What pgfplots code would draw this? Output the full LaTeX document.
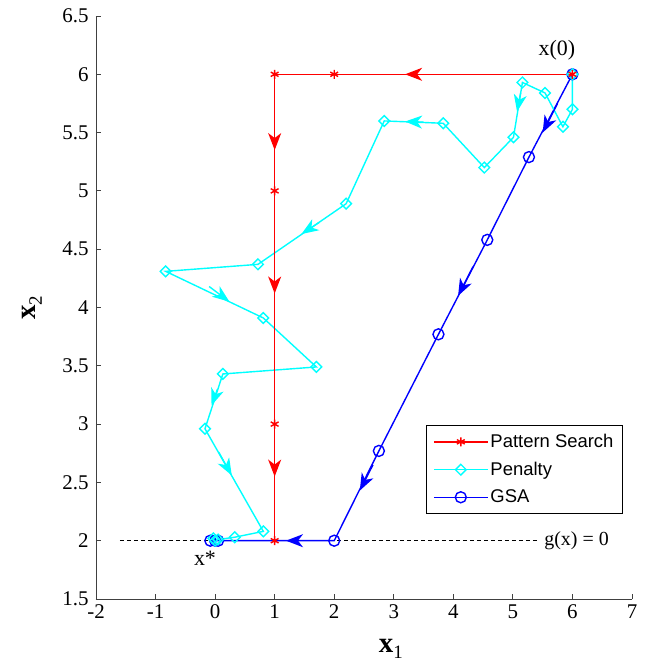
\documentclass[border=0pt]{standalone}
\usepackage{pgfplots}
\pgfplotsset{compat=1.18}
\usepackage{fontspec}
\setmainfont{Liberation Serif}
\setsansfont{Liberation Sans}
\usetikzlibrary{arrows.meta}

\definecolor{mred}{rgb}{1,0,0}
\definecolor{mcyan}{rgb}{0,1,1}
\definecolor{mblue}{rgb}{0,0,1}

\tikzset{arr/.style={-{Stealth[length=17bp,width=13bp,inset=5bp]}}}

\begin{document}
\begin{tikzpicture}
\begin{axis}[
    scale only axis,
    width=536bp, height=583bp,
    xmin=-2, xmax=7, ymin=1.5, ymax=6.5,
    xtick={-2,-1,...,7},
    ytick={1.5,2,...,6.5},
    axis lines*=left,
    axis line style={line width=0.9bp, black!75},
    tick align=inside,
    major tick length=5bp,
    tick style={black!75, line width=0.9bp},
    tick label style={font=\fontsize{21}{22}\selectfont},
    yticklabel style={xshift=-4bp},
    xticklabel style={yshift=-2bp},
    /pgf/number format/assume math mode=true,
    xlabel={{\fontsize{29}{30}\selectfont\bfseries x}{\fontsize{19}{20}\selectfont\raisebox{-6bp}{1}}},
    ylabel={{\fontsize{29}{30}\selectfont\bfseries x}{\fontsize{19}{20}\selectfont\raisebox{-6bp}{2}}},
    xlabel style={at={(axis description cs:0.55,-0.085)}, anchor=center},
    ylabel style={at={(axis description cs:-0.119,0.5)}, anchor=center},
    legend style={at={(axis description cs:0.983,0.2985)}, anchor=north east,
        font=\sffamily\fontsize{18.5}{20}\selectfont, draw=black, line width=0.9bp,
        inner xsep=7bp, inner ysep=7bp, row sep=9bp},
    legend cell align=left,
    legend image code/.code={
        \draw[mark repeat=2,mark phase=2,#1] plot coordinates {(0bp,0bp) (27bp,0bp) (54bp,0bp)};
    },
    every axis plot/.append style={line width=1.4bp},
]
% constraint line
\addplot[black, line width=0.9bp, dash pattern=on 4bp off 3bp, forget plot] coordinates {(-1.6,2) (5.45,2)};

% legend entries
\addlegendimage{mred, line width=1.4bp, mark=asterisk, mark size=4.5bp}
\addlegendentry{Pattern Search}
\addlegendimage{mcyan, line width=1.4bp, mark=square, mark size=3.8bp, mark options={rotate=45}}
\addlegendentry{Penalty}
\addlegendimage{mblue, line width=1.4bp, mark=o, mark size=5.5bp}
\addlegendentry{GSA}

% GSA
\addplot[mblue, mark=o, mark size=5.5bp, forget plot] coordinates {
(6,6) (5.27,5.29) (4.57,4.58) (3.75,3.77) (2.75,2.77) (2,2) (0.05,2) (0.0,2) (-0.08,2)
};
% Penalty
\addplot[mcyan, mark=square, mark size=3.8bp, mark options={rotate=45}, forget plot] coordinates {
(6,6) (6,5.7) (5.84,5.55) (5.54,5.84) (5.16,5.93) (5.01,5.46) (4.52,5.2) (3.83,5.58)
(2.84,5.6) (2.2,4.89) (0.72,4.37) (-0.83,4.31) (0.81,3.91) (1.7,3.49) (0.13,3.43)
(-0.17,2.96) (0.81,2.08) (0.33,2.03) (0.05,2.01) (-0.03,2.02) (0.0,2.0)
};
% Pattern search
\addplot[mred, mark=asterisk, mark size=4.5bp, forget plot] coordinates {
(6,6) (2,6) (1,6) (1,5) (1,3) (1,2)
};

% direction arrows
\addplot[mred, arr, forget plot, no markers] coordinates {(3.6,6) (3.19,6)};
\addplot[mred, arr, forget plot, no markers] coordinates {(1,5.6) (1,5.35)};
\addplot[mred, arr, forget plot, no markers] coordinates {(1,4.4) (1,4.12)};
\addplot[mred, arr, forget plot, no markers] coordinates {(1,2.8) (1,2.55)};

\addplot[mcyan, arr, forget plot, no markers] coordinates {(5.13,5.84) (5.07,5.68)};
\addplot[mcyan, arr, forget plot, no markers] coordinates {(3.5,5.59) (3.19,5.595)};
\addplot[mcyan, arr, forget plot, no markers] coordinates {(1.75,4.73) (1.45,4.63)};
\addplot[mcyan, arr, forget plot, no markers] coordinates {(-0.1,4.18) (0.24,4.05)};
\addplot[mcyan, arr, forget plot, no markers] coordinates {(0.04,3.3) (-0.06,3.16)};
\addplot[mcyan, arr, forget plot, no markers] coordinates {(0.06,2.76) (0.28,2.56)};

\addplot[mblue, arr, forget plot, no markers] coordinates {(5.75,5.75) (5.5,5.5)};
\addplot[mblue, arr, forget plot, no markers] coordinates {(4.33,4.35) (4.08,4.10)};
\addplot[mblue, arr, forget plot, no markers] coordinates {(2.65,2.65) (2.43,2.43)};
\addplot[mblue, arr, forget plot, no markers] coordinates {(1.6,2) (1.19,2)};

% annotations
\node[font=\fontsize{22}{24}\selectfont] at (axis cs:5.74,6.21) {x(0)};
\node[font=\fontsize{22}{24}\selectfont] at (axis cs:-0.17,1.85) {x*};
\node[font=\fontsize{20}{22}\selectfont, anchor=west] at (axis cs:5.47,2) {g(x) = 0};
\end{axis}
\pgfresetboundingbox
\path[use as bounding box] ([shift={(-96bp,-65bp)}]current axis.south west) rectangle ([shift={(17bp,16bp)}]current axis.north east);
\end{tikzpicture}
\end{document}
